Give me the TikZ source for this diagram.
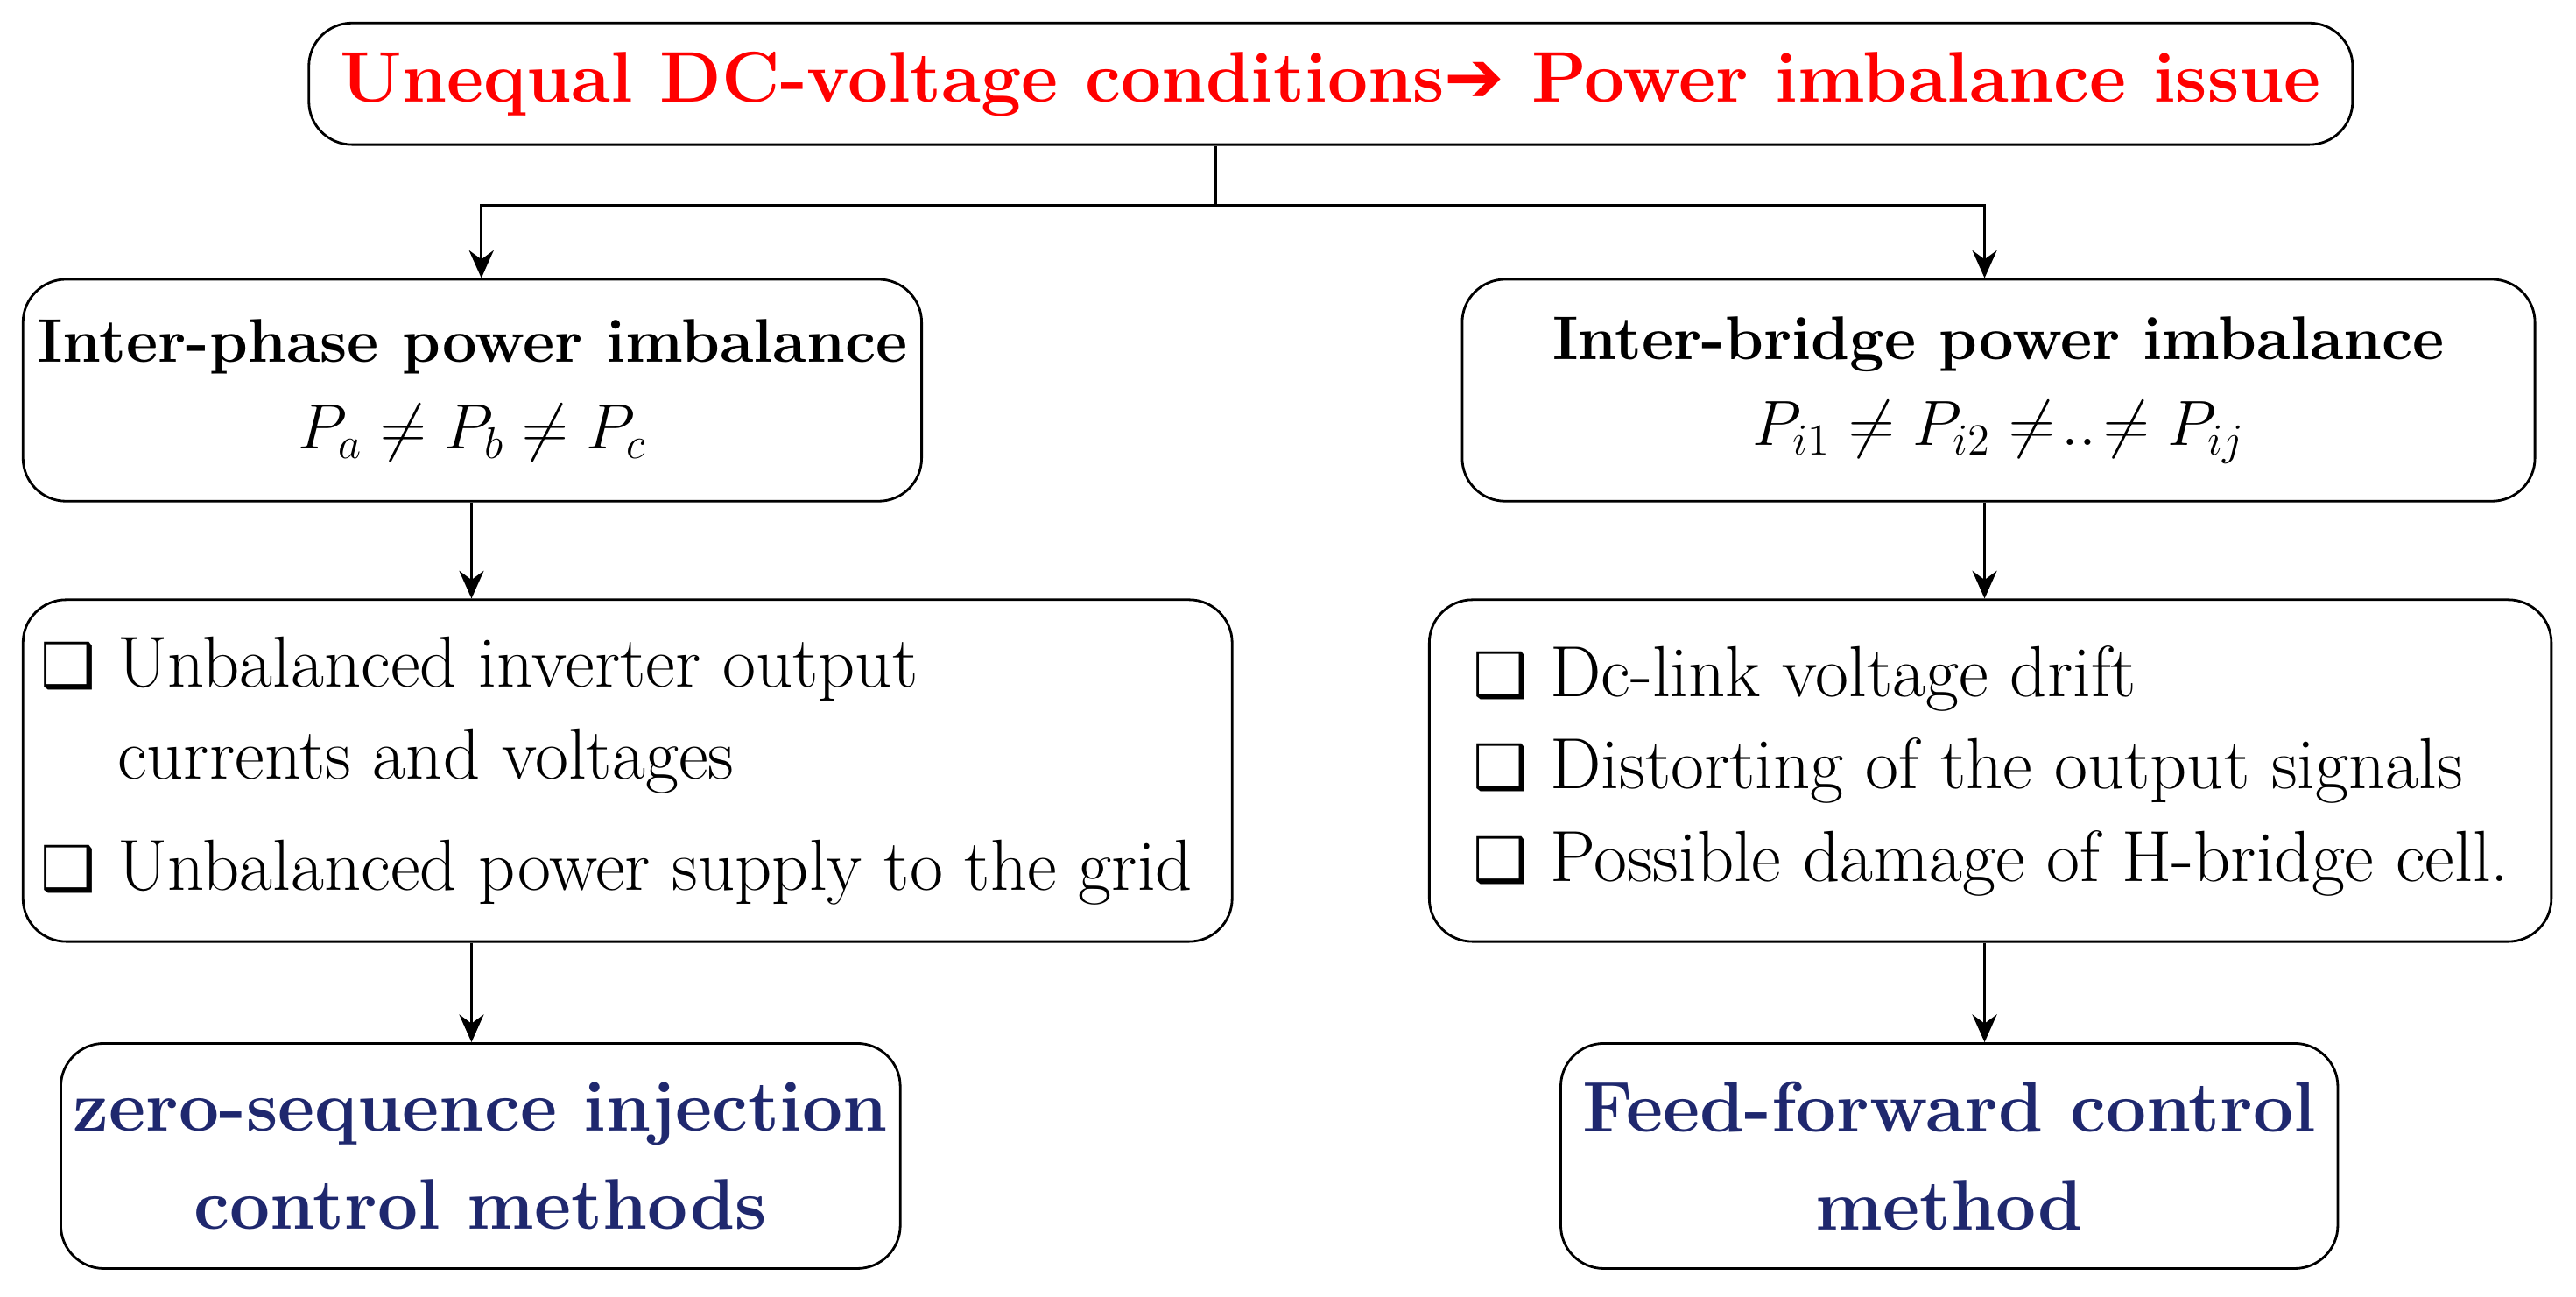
\documentclass[tikz,border=0pt]{standalone}
\usepackage{fontspec}
\usepackage{amsmath}
\usetikzlibrary{arrows.meta}
\newfontfamily\dejavu{DejaVu Sans}
\definecolor{titlered}{RGB}{255,0,0}
\definecolor{navy}{RGB}{31,40,110}
\newcommand{\bx}{{\dejavu\fontsize{20}{20}\selectfont ❑}\ }
\begin{document}
\begin{tikzpicture}[x=0.01876cm,y=-0.01876cm,
  box/.style={draw,thick,rounded corners=14pt,inner sep=0pt,align=center},
  arr/.style={thick,-{Stealth[length=9pt,width=8pt]}}]
\useasboundingbox (0,0) rectangle (1568,789);
% boxes
\node[box,minimum width=1244*0.01876cm,minimum height=74*0.01876cm,text=titlered,font=\bfseries\fontsize{23.3}{28}\selectfont] (top) at (810,51) {Unequal DC-voltage conditions{\dejavu ➔} Power imbalance issue};
\node[box,minimum width=547*0.01876cm,minimum height=135*0.01876cm,font=\fontsize{20}{28}\selectfont] (l1) at (287.5,237.5) {\textbf{Inter-phase power imbalance}\\ $P_a \neq P_b \neq P_c$};
\node[box,minimum width=653*0.01876cm,minimum height=135*0.01876cm,font=\fontsize{20}{28}\selectfont] (r1) at (1216.5,237.5) {\textbf{Inter-bridge power imbalance}\\ $P_{i1} \neq P_{i2} \neq\!..\!\neq P_{ij}$};
\node[box,minimum width=736*0.01876cm,minimum height=208*0.01876cm] (l2) at (382,469) {};
\node[align=left,anchor=west,font=\fontsize{23.5}{30}\selectfont] (l2t) at (18,469) {\bx Unbalanced inverter output\\ \phantom{\bx}currents and voltages\\[6pt] \bx Unbalanced power supply to the grid};
\node[box,minimum width=683*0.01876cm,minimum height=208*0.01876cm] (r2) at (1211.5,469) {};
\node[align=left,anchor=west,font=\fontsize{23.5}{30}\selectfont] (r2t) at (890,469) {\bx Dc-link voltage drift\\ \bx Distorting of the output signals\\ \bx Possible damage of H-bridge cell.};
\node[box,minimum width=511*0.01876cm,minimum height=137*0.01876cm,text=navy,font=\bfseries\fontsize{23.3}{32}\selectfont] (l3) at (292.5,703.5) {zero-sequence injection\\ control methods};
\node[box,minimum width=473*0.01876cm,minimum height=137*0.01876cm,text=navy,font=\bfseries\fontsize{23.3}{32}\selectfont] (r3) at (1186.5,703.5) {Feed-forward control\\ method};
% connectors
\coordinate (j) at (740,125);
\draw[thick] (top.south -| j) -- (j);
\draw[arr] (j) -| (l1.north -| 293,0);
\draw[arr] (j) -| (r1.north -| 1208,0);
\draw[arr] (l1.south -| 287,0) -- (l2.north -| 287,0);
\draw[arr] (r1.south -| 1208,0) -- (r2.north -| 1208,0);
\draw[arr] (l2.south -| 287,0) -- (l3.north -| 287,0);
\draw[arr] (r2.south -| 1208,0) -- (r3.north -| 1208,0);
\end{tikzpicture}
\end{document}
